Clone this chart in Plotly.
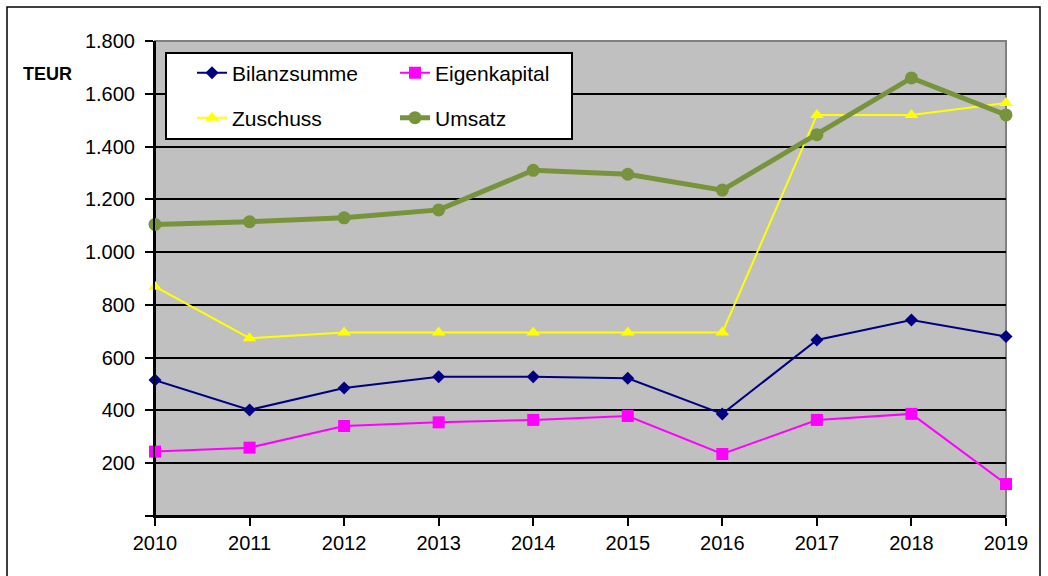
import plotly.graph_objects as go

years = [2010, 2011, 2012, 2013, 2014, 2015, 2016, 2017, 2018, 2019]
bilanzsumme = [515, 402, 485, 528, 528, 522, 387, 667, 743, 680]
eigenkapital = [244, 259, 341, 355, 364, 379, 235, 364, 387, 121]
zuschuss = [869, 674, 695, 695, 695, 695, 695, 1520, 1520, 1565]
umsatz = [1105, 1115, 1130, 1160, 1310, 1295, 1235, 1445, 1660, 1520]
y_ticks = [0, 200, 400, 600, 800, 1000, 1200, 1400, 1600, 1800]
y_ticktext = ["", "200", "400", "600", "800", "1.000", "1.200", "1.400", "1.600", "1.800"]

FONT = "Arial, Liberation Sans, sans-serif"

# plot area in pixels
L, R, T, B = 155, 1006, 41, 516
W, H = 1048, 576
PW, PH = R - L, B - T


def px_x(p):
    return (p - L) / PW


def px_y(p):
    return (B - p) / PH


fig = go.Figure()
fig.add_trace(go.Scatter(x=years, y=bilanzsumme, name="Bilanzsumme", mode="lines+markers",
                         line=dict(color="#000080", width=2),
                         marker=dict(symbol="diamond", size=10, color="#000080"),
                         cliponaxis=False, legend="legend"))
fig.add_trace(go.Scatter(x=years, y=eigenkapital, name="Eigenkapital", mode="lines+markers",
                         line=dict(color="#FF00FF", width=2),
                         marker=dict(symbol="square", size=12, color="#FF00FF"),
                         cliponaxis=False, legend="legend2"))
fig.add_trace(go.Scatter(x=years, y=zuschuss, name="Zuschuss", mode="lines+markers",
                         line=dict(color="#FFFF00", width=2),
                         marker=dict(symbol="triangle-up", size=12, color="#FFFF00"),
                         cliponaxis=False, legend="legend3"))
fig.add_trace(go.Scatter(x=years, y=umsatz, name="Umsatz", mode="lines+markers",
                         line=dict(color="#77933C", width=5),
                         marker=dict(symbol="circle", size=13, color="#77933C"),
                         cliponaxis=False, legend="legend4"))

leg_common = dict(bgcolor="rgba(0,0,0,0)", borderwidth=0, font=dict(family=FONT, size=21, color="black"),
                  xanchor="left", yanchor="middle")
col1_x, col2_x = 192, 395
row1_y, row2_y = 73, 118

fig.update_layout(
    width=W, height=H,
    margin=dict(l=L, r=W - R, t=T, b=H - B),
    paper_bgcolor="white",
    plot_bgcolor="#C0C0C0",
    separators=",.",
    showlegend=True,
    legend=dict(x=px_x(col1_x), y=px_y(row1_y), **leg_common),
    legend2=dict(x=px_x(col2_x), y=px_y(row1_y), **leg_common),
    legend3=dict(x=px_x(col1_x), y=px_y(row2_y), **leg_common),
    legend4=dict(x=px_x(col2_x), y=px_y(row2_y), **leg_common),
    xaxis=dict(range=[2010, 2019], tickvals=years, ticks="outside", ticklen=8, tickcolor="black",
               tickwidth=1.5, showgrid=False, showline=True, linecolor="black", linewidth=2,
               zeroline=False, tickfont=dict(family=FONT, size=20, color="black")),
    yaxis=dict(range=[0, 1800], tickvals=y_ticks, ticktext=y_ticktext, ticks="outside", ticklen=8,
               tickcolor="black", tickwidth=1.5, showgrid=True, gridcolor="black", gridwidth=2,
               showline=True, linecolor="black", linewidth=2, zeroline=False,
               ticklabelstandoff=6,
               tickfont=dict(family=FONT, size=20, color="black")),
    annotations=[dict(text="<b>TEUR</b>", xref="paper", yref="paper", x=px_x(48), y=px_y(74),
                      xanchor="center", yanchor="middle", showarrow=False,
                      font=dict(family=FONT, size=18, color="black"))],
    shapes=[
        # plot area border (top / right, gray)
        dict(type="rect", xref="paper", yref="paper", x0=0, x1=1, y0=0, y1=1,
             line=dict(color="#808080", width=2), layer="between"),
        # legend box
        dict(type="rect", xref="paper", yref="paper", x0=px_x(166), x1=px_x(572), y0=px_y(53), y1=px_y(139),
             line=dict(color="black", width=2), fillcolor="white", layer="above"),
        # outer chart border
        dict(type="rect", xref="paper", yref="paper", x0=px_x(7), x1=px_x(1040), y0=px_y(7), y1=px_y(600),
             line=dict(color="black", width=1.5), layer="above"),
    ],
)
# left / bottom axis lines black over the gray border
fig.add_shape(type="line", xref="paper", yref="paper", x0=0, x1=0, y0=0, y1=1,
              line=dict(color="black", width=2), layer="between")
fig.add_shape(type="line", xref="paper", yref="paper", x0=0, x1=1, y0=0, y1=0,
              line=dict(color="black", width=2), layer="between")

fig.write_html("out.html", config={"displayModeBar": False},
               post_script="document.body.style.margin='0';")
